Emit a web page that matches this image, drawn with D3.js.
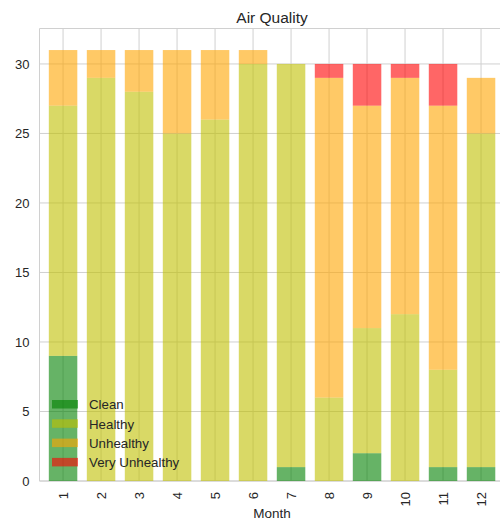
<!DOCTYPE html>
<html>
<head>
<meta charset="utf-8">
<script src="https://cdn.jsdelivr.net/npm/d3@7"></script>
<style>
  html, body { margin: 0; padding: 0; background: #fff; }
  svg { display: block; font-family: "Liberation Sans", Arial, sans-serif; }
</style>
</head>
<body>
<svg id="chart" width="500" height="522"></svg>
<script>
const months = [1, 2, 3, 4, 5, 6, 7, 8, 9, 10, 11, 12];
const clean = [9, 0, 0, 0, 0, 0, 1, 0, 2, 0, 1, 1];
const healthy = [18, 29, 28, 25, 26, 30, 29, 6, 9, 12, 7, 24];
const unhealthy = [4, 2, 3, 6, 5, 1, 0, 23, 16, 17, 19, 4];
const veryUnhealthy = [0, 0, 0, 0, 0, 0, 0, 1, 3, 1, 3, 0];
const categories = ["Clean", "Healthy", "Unhealthy", "Very Unhealthy"];
const colors = ["#008000", "#bfbf00", "#ffa500", "#ff0000"];
const yTicks = [0, 5, 10, 15, 20, 25, 30];

(function () {
const series = [clean, healthy, unhealthy, veryUnhealthy];
const rows = months.map((m, i) => {
  const r = { month: m };
  categories.forEach((c, k) => r[c] = series[k][i]);
  return r;
});
const stacked = d3.stack().keys(categories)(rows);

const svg = d3.select("#chart");
const pl = 39.5, pr = 504.6, pt = 28.5, pb = 481;
const barW = 0.75;
const x = d3.scaleLinear().domain([0.38, 12.62]).range([pl, pr]);
const y = d3.scaleLinear().domain([0, 32.55]).range([pb, pt]);
const grid = "#d0d0d0", text = "#262626";

// grid
const g = svg.append("g");
g.selectAll("line.h").data(yTicks).join("line")
  .attr("x1", pl).attr("x2", pr)
  .attr("y1", d => y(d)).attr("y2", d => y(d))
  .attr("stroke", grid).attr("stroke-width", 1);
g.selectAll("line.v").data(months).join("line")
  .attr("x1", d => x(d)).attr("x2", d => x(d))
  .attr("y1", pt).attr("y2", pb)
  .attr("stroke", grid).attr("stroke-width", 1);
// spines
svg.append("line").attr("x1", pl).attr("x2", pl).attr("y1", pt).attr("y2", pb).attr("stroke", grid);
svg.append("line").attr("x1", pl).attr("x2", pr).attr("y1", pt).attr("y2", pt).attr("stroke", grid);
svg.append("line").attr("x1", pl).attr("x2", pr).attr("y1", pb).attr("y2", pb).attr("stroke", grid);

// bars
svg.append("g").selectAll("g").data(stacked).join("g")
  .attr("fill", (d, i) => colors[i]).attr("fill-opacity", 0.6)
  .selectAll("rect").data(d => d).join("rect")
  .attr("x", d => x(d.data.month - barW / 2))
  .attr("width", d => x(d.data.month + barW / 2) - x(d.data.month - barW / 2))
  .attr("y", d => y(d[1]))
  .attr("height", d => y(d[0]) - y(d[1]));

// y axis labels
svg.append("g").selectAll("text").data(yTicks).join("text")
  .attr("x", pl - 10).attr("y", d => y(d)).attr("dy", "0.36em")
  .attr("text-anchor", "end").attr("font-size", 13).attr("fill", text)
  .text(d => d);

// x axis labels (rotated)
svg.append("g").selectAll("text").data(months).join("text")
  .attr("transform", d => `translate(${x(d)},${pb + 11}) rotate(-90)`)
  .attr("dy", "0.36em").attr("text-anchor", "end")
  .attr("font-size", 13).attr("fill", text)
  .text(d => d);

// x label
svg.append("text").attr("x", (pl + pr) / 2).attr("y", 518)
  .attr("text-anchor", "middle").attr("font-size", 13.5).attr("fill", text).text("Month");
// title
svg.append("text").attr("x", (pl + pr) / 2).attr("y", 23)
  .attr("text-anchor", "middle").attr("font-size", 15.5).attr("fill", text).text("Air Quality");

// legend
const lg = svg.append("g").attr("transform", "translate(52,400)");
const item = lg.selectAll("g").data(categories).join("g")
  .attr("transform", (d, i) => `translate(0,${i * 19.3})`);
item.append("rect").attr("width", 26).attr("height", 8.5)
  .attr("fill", (d, i) => colors[i]).attr("fill-opacity", 0.6);
item.append("text").attr("x", 37).attr("y", 4.5).attr("dy", "0.36em")
  .attr("font-size", 13.3).attr("fill", text).text(d => d);
})();
</script>
</body>
</html>
